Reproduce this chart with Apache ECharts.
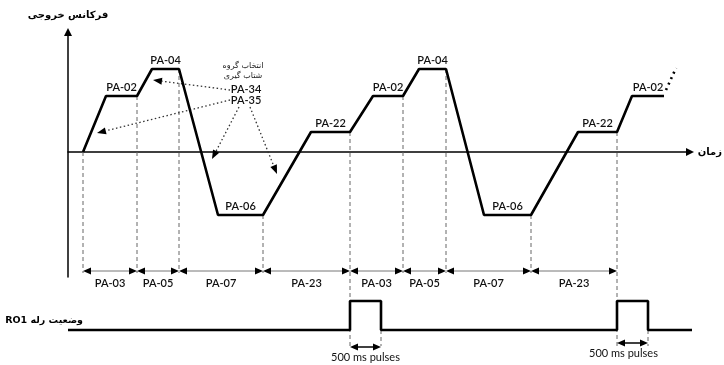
<!DOCTYPE html>
<html><head><meta charset="utf-8">
<script src="https://cdn.jsdelivr.net/npm/echarts@6.0.0/dist/echarts.min.js"></script>
<style>html,body{margin:0;padding:0;background:#fff}#c{width:724px;height:365px}</style>
</head><body><div id="c"></div>
<script>
// ---- data (time units, frequency units) ----
const curveT = [15,38,69,84,111,150,195,243,282,305,335,351,378,416,463,510,549,564,596];
const curveF = [0,28,28,41.5,41.5,-31.5,-31.5,10,10,28,28,41.5,41.5,-31.5,-31.5,10,10,28,28];
const plateauNames = ['PA-02','PA-04','PA-06','PA-22','PA-02','PA-04','PA-06','PA-22','PA-02'];
const contT = [598,608];
const contF = [31,42];
const segBounds = [15,69,111,195,282,335,378,463,549];
const segNames = ['PA-03','PA-05','PA-07','PA-23','PA-03','PA-05','PA-07','PA-23'];
const relayT = [0,282,282,313,313,549,549,580,580,629];
const relayV = [0,0,1,1,0,0,1,1,0,0];
const pulseText = '500 ms pulses';
const yAxisName = 'فرکانس خروجی';
const xAxisName = 'زمان';
const relayName = 'RO1 وضعیت رله';
const groupTitle = ['انتخاب گروه', 'شتاب گیری'];
const groupParams = ['PA-34', 'PA-35'];

const LATIN = 'Lato, "Open Sans", sans-serif';
const FA = '"DejaVu Sans", sans-serif';
const arrowPath = 'path://M5,0L10,10L0,10Z';

const chart = echarts.init(document.getElementById('c'));
const option = {
  animation: false,
  backgroundColor: '#fff',
  grid: [
    {left: 68, right: 34, top: 32, bottom: 88, outerBoundsMode: 'none', containLabel: false},
    {left: 68, right: 34, top: 301, height: 29, outerBoundsMode: 'none', containLabel: false}
  ],
  xAxis: [
    {gridIndex: 0, type: 'value', min: 0, max: 622,
     axisLine: {show: true, onZero: true, symbol: ['none', arrowPath], symbolSize: [8, 10],
                lineStyle: {color: '#000', width: 1.5}},
     axisTick: {show: false}, axisLabel: {show: false}, splitLine: {show: false},
     name: xAxisName, nameLocation: 'end', nameGap: 32,
     nameTextStyle: {fontFamily: FA, fontWeight: 'bold', fontSize: 10, color: '#000', align: 'right'}},
    {gridIndex: 1, type: 'value', min: 0, max: 622, show: false}
  ],
  yAxis: [
    {gridIndex: 0, type: 'value', min: -62.5, max: 60,
     axisLine: {show: true, onZero: false, symbol: ['none', arrowPath], symbolSize: [8, 10],
                lineStyle: {color: '#000', width: 1.5}},
     axisTick: {show: false}, axisLabel: {show: false}, splitLine: {show: false},
     name: yAxisName, nameLocation: 'end', nameGap: 12,
     nameTextStyle: {fontFamily: FA, fontWeight: 'bold', fontSize: 10, color: '#000'}},
    {gridIndex: 1, type: 'value', min: 0, max: 1, show: false}
  ],
  series: [
    {type: 'line', xAxisIndex: 0, yAxisIndex: 0, symbol: 'none', silent: true, z: 5,
     data: curveT.map((t, i) => [t, curveF[i]]),
     lineStyle: {color: '#000', width: 2.6}},
    {type: 'line', xAxisIndex: 0, yAxisIndex: 0, symbol: 'none', silent: true, z: 5,
     data: contT.map((t, i) => [t, contF[i]]),
     lineStyle: {color: '#000', width: 2.6, type: [2, 4]}},
    {type: 'line', xAxisIndex: 1, yAxisIndex: 1, symbol: 'none', silent: true, clip: false, z: 5,
     data: relayT.map((t, i) => [t, relayV[i]]),
     lineStyle: {color: '#000', width: 2.6}}
  ]
};
chart.setOption(option);

// ---- annotations positioned through the chart's own scales ----
const P = (t, f) => chart.convertToPixel({xAxisIndex: 0, yAxisIndex: 0}, [t, f]);
const R = (t, v) => chart.convertToPixel({xAxisIndex: 1, yAxisIndex: 1}, [t, v]);
const fAt = t => curveF[curveT.indexOf(t)];
const els = [];

function text(str, x, y, font, fill, align) {
  els.push({type: 'text', silent: true, z: 10,
    style: {text: str, x: x, y: y, font: font, fill: fill || '#111',
            align: align || 'center', verticalAlign: 'middle',
            textAlign: align || 'center', textVerticalAlign: 'middle'}});
}
function line(x1, y1, x2, y2, stroke, w, dash) {
  els.push({type: 'line', silent: true, z: 3,
    shape: {x1: x1, y1: y1, x2: x2, y2: y2},
    style: {stroke: stroke, lineWidth: w, lineDash: dash || null}});
}
function head(x0, y0, x1, y1, len, wid, fill) {
  const dx = x1 - x0, dy = y1 - y0, L = Math.hypot(dx, dy), ux = dx / L, uy = dy / L;
  const bx = x1 - ux * len, by = y1 - uy * len, px = -uy, py = ux;
  els.push({type: 'polygon', silent: true, z: 4,
    shape: {points: [[x1, y1], [bx + px * wid / 2, by + py * wid / 2], [bx - px * wid / 2, by - py * wid / 2]]},
    style: {fill: fill}});
  return [bx, by];
}
function arrow(a, b, stroke, w, dash, len, wid) {
  const base = head(a[0], a[1], b[0], b[1], len, wid, '#000');
  line(a[0], a[1], base[0], base[1], stroke, w, dash);
}
function dblArrow(xa, xb, y, stroke, w, len, wid) {
  const l = head(xb, y, xa, y, len, wid, '#000');
  const r = head(xa, y, xb, y, len, wid, '#000');
  line(l[0], y, r[0], y, stroke, w);
}

// pulse starts / ends from relay data
const pulseStarts = [], pulseEnds = [];
for (let i = 1; i < relayT.length; i++) {
  if (relayT[i] === relayT[i - 1] && relayV[i] > relayV[i - 1]) pulseStarts.push(relayT[i]);
  if (relayT[i] === relayT[i - 1] && relayV[i] < relayV[i - 1]) pulseEnds.push(relayT[i]);
}
const relayLow = R(0, 0)[1];
const dimY = 271;
const deepY = relayLow + 16;

// dashed guides
segBounds.forEach(t => {
  const top = P(t, fAt(t));
  const bottom = pulseStarts.indexOf(t) >= 0 ? deepY : dimY + 2;
  line(top[0], top[1], top[0], bottom, '#666', 1, [4, 3]);
});
pulseEnds.forEach(t => {
  const p = R(t, 0);
  line(p[0], p[1], p[0], deepY, '#666', 1, [4, 3]);
});

// dimension arrows with parameter names
segNames.forEach((n, i) => {
  const xa = P(segBounds[i], 0)[0], xb = P(segBounds[i + 1], 0)[0];
  dblArrow(xa, xb, dimY, '#777', 1, 8, 7);
  text(n, (xa + xb) / 2, dimY + 12, '600 11px ' + LATIN, '#111');
});

// plateau labels
let k = 0;
for (let i = 1; i < curveT.length; i++) {
  if (curveF[i] === curveF[i - 1] && k < plateauNames.length) {
    const a = P(curveT[i - 1], curveF[i]), b = P(curveT[i], curveF[i]);
    text(plateauNames[k++], (a[0] + b[0]) / 2, a[1] - 9, '600 11px ' + LATIN, '#111');
  }
}

// acceleration group annotation
let p;
p = P(175, 43); text(groupTitle[0], p[0], p[1], '8px ' + FA, '#222');
p = P(175, 38); text(groupTitle[1], p[0], p[1], '8px ' + FA, '#222');
p = P(178, 31.5); text(groupParams[0], p[0], p[1], '600 11px ' + LATIN, '#111');
p = P(178, 26); text(groupParams[1], p[0], p[1], '600 11px ' + LATIN, '#111');
arrow(P(162, 31), P(85, 36), '#333', 1.3, [1.5, 2.5], 9, 7);
arrow(P(162, 26), P(29, 9.5), '#333', 1.3, [1.5, 2.5], 9, 7);
arrow(P(171, 22.5), P(144, -3.5), '#333', 1.3, [1.5, 2.5], 9, 7);
arrow(P(182, 22.5), P(209, -11), '#333', 1.3, [1.5, 2.5], 9, 7);

// pulse width arrows
const pulseArrowDy = [17, 13];
const pulseLabelDx = [0, -9];
pulseStarts.forEach((t, i) => {
  const xa = R(t, 0)[0], xb = R(pulseEnds[i], 0)[0];
  const y = relayLow + pulseArrowDy[i];
  dblArrow(xa, xb, y, '#000', 1.5, 8, 7);
  text(pulseText, (xa + xb) / 2 + pulseLabelDx[i], y + 10, '11px ' + LATIN, '#111');
});

// relay label
p = R(15, 0);
text(relayName, p[0], p[1] - 9, 'bold 9.5px ' + FA, '#000', 'right');

chart.setOption({graphic: {elements: els}});
</script>
</body></html>
